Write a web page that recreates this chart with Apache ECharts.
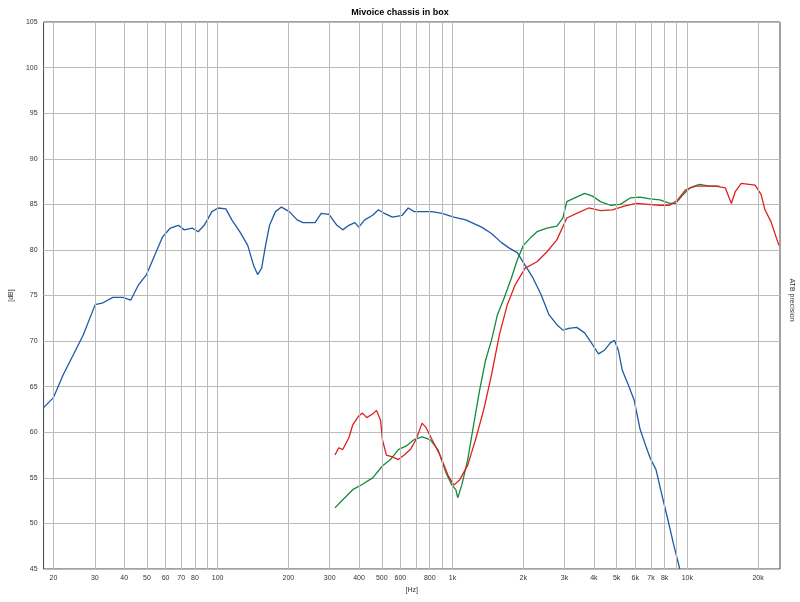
<!DOCTYPE html>
<html><head><meta charset="utf-8">
<script src="https://cdn.jsdelivr.net/npm/echarts@6/dist/echarts.min.js"></script>
<style>html,body{margin:0;padding:0;background:#fff}#c{width:800px;height:602px}</style>
</head><body><div id="c"></div>
<script>
const tickFreqs=[20,30,40,50,60,70,80,90,100,200,300,400,500,600,700,800,900,1000,2000,3000,4000,5000,6000,7000,8000,9000,10000,20000];
const tickLabels=['20','30','40','50','60','70','80','','100','200','300','400','500','600','','800','','1k','2k','3k','4k','5k','6k','7k','8k','','10k','20k'];
const blueF=[18.15,20,22,24.3,26.8,30.1,32.5,35.8,39.5,42.7,46.1,49.8,53.9,58.2,62.9,68,72.1,77.9,82.6,87.6,94.6,100.3,108.4,114.9,124.2,134.3,142.3,148,153.9,160,166.3,176.3,186.9,202,218,231,260,276,298,322,341,362,384,399,423,457,484,513,555,611,648,687,742,818,902,1013,1138,1330,1466,1616,1746,1887,2039,2204,2382,2575,2782,2950,3127,3380,3653,3948,4184,4436,4702,4889,5083,5284,5603,5938,6295,6673,6937,7354,7795,8263,8758,9284];
const blueDB=[62.7,63.8,66.3,68.5,70.7,74.0,74.2,74.8,74.8,74.5,76.2,77.3,79.4,81.4,82.4,82.7,82.2,82.4,82.0,82.7,84.2,84.6,84.5,83.3,82.0,80.5,78.3,77.3,78.0,80.5,82.7,84.2,84.7,84.2,83.3,83.0,83.0,84.0,83.9,82.7,82.2,82.7,83.0,82.5,83.3,83.8,84.4,84.0,83.6,83.8,84.6,84.2,84.2,84.2,84.0,83.6,83.3,82.5,81.8,80.8,80.2,79.7,78.3,76.9,75.1,72.9,71.8,71.2,71.4,71.5,70.9,69.6,68.6,69.0,69.8,70.1,69.0,66.8,65.2,63.5,60.3,58.4,57.2,55.9,53.1,50.4,47.6,45.0];
const greenF=[316,341,376,414,457,503,544,588,636,687,742,803,867,937,994,1033,1053,1095,1161,1230,1304,1383,1466,1554,1647,1780,1887,2004,2161,2291,2525,2782,2950,3067,3315,3653,3948,4266,4702,5182,5711,6295,6937,7642,8424,8930,9465,10230,11270,12420,13690];
const greenDB=[51.7,52.6,53.7,54.3,55.0,56.3,57.0,58.1,58.5,59.2,59.5,59.2,58.1,55.6,54.2,53.7,52.8,54.2,57.0,60.8,64.6,67.9,70.1,72.9,74.5,76.9,78.9,80.5,81.4,82.0,82.4,82.6,83.5,85.3,85.7,86.2,85.9,85.3,84.9,85.0,85.7,85.8,85.6,85.5,85.1,85.1,85.9,86.8,87.2,87.0,87.0];
const redF=[316,328,341,362,376,399,414,431,457,475,494,503,523,555,588,623,661,700,742,772,818,884,956,1013,1074,1161,1254,1356,1466,1584,1712,1851,2039,2291,2525,2782,3067,3380,3798,4266,4794,5386,6053,6801,7642,8424,9105,9840,10840,11950,13170,14520,15390,16000,16960,18320,19430,20600,21400,22700,24530];
const redDB=[57.5,58.3,58.1,59.4,60.8,61.8,62.1,61.6,62.0,62.4,61.3,59.2,57.5,57.3,57.0,57.5,58.1,59.2,61.0,60.5,59.2,57.5,55.3,54.2,54.8,56.4,59.2,62.4,66.3,70.7,74.0,76.2,78.0,78.7,79.8,81.1,83.5,84.0,84.6,84.3,84.4,84.8,85.1,85.0,84.9,84.9,85.5,86.6,87.0,87.0,87.0,86.8,85.1,86.4,87.3,87.2,87.1,86.1,84.4,83.1,80.5];
const zip=(a,b)=>a.map((v,i)=>[v,b[i]]);
const chart=echarts.init(document.getElementById('c'));
chart.setOption({
  animation:false,
  title:{text:'Mivoice chassis in box',left:'center',top:3,textStyle:{fontSize:9,fontWeight:'bold',color:'#000',fontFamily:'Arial, Liberation Sans'}},
  grid:{left:38,right:20,top:22,bottom:33,show:true,borderColor:'#444',borderWidth:1},
  xAxis:{type:'log',logBase:10,min:18.15,max:24800,axisLabel:{show:false},axisTick:{show:false},splitLine:{show:false},axisLine:{show:false},
    name:'[Hz]',nameLocation:'middle',nameGap:18,nameTextStyle:{fontSize:7,color:'#333'}},
  yAxis:{type:'value',min:45,max:105,interval:5,axisLine:{show:false},axisTick:{show:false},
    axisLabel:{fontSize:7,color:'#333',margin:6},splitLine:{lineStyle:{color:'#bbb',width:1}},
    name:'[dB]',nameLocation:'middle',nameGap:28,nameRotate:90,nameTextStyle:{fontSize:7,color:'#333'}},
  graphic:[{type:'text',x:792,y:300,rotation:-Math.PI/2,style:{text:'ATB precision',fontSize:7,fill:'#333',align:'center',verticalAlign:'middle'}}],
  series:[
    {type:'line',data:[],silent:true,markLine:{symbol:'none',silent:true,animation:false,
      lineStyle:{color:'#bbb',type:'solid',width:1},
      label:{position:'start',fontSize:7,color:'#333',distance:6,formatter:p=>p.name},
      data:tickFreqs.map((f,i)=>({xAxis:f,name:tickLabels[i]}))}},
    {type:'line',data:zip(blueF,blueDB),showSymbol:false,lineStyle:{color:'#1f5aa6',width:1.3},itemStyle:{color:'#1f5aa6'}},
    {type:'line',data:zip(greenF,greenDB),showSymbol:false,lineStyle:{color:'#138a3c',width:1.3},itemStyle:{color:'#138a3c'}},
    {type:'line',data:zip(redF,redDB),showSymbol:false,lineStyle:{color:'#e02020',width:1.3},itemStyle:{color:'#e02020'}}
  ]
});
</script></body></html>
